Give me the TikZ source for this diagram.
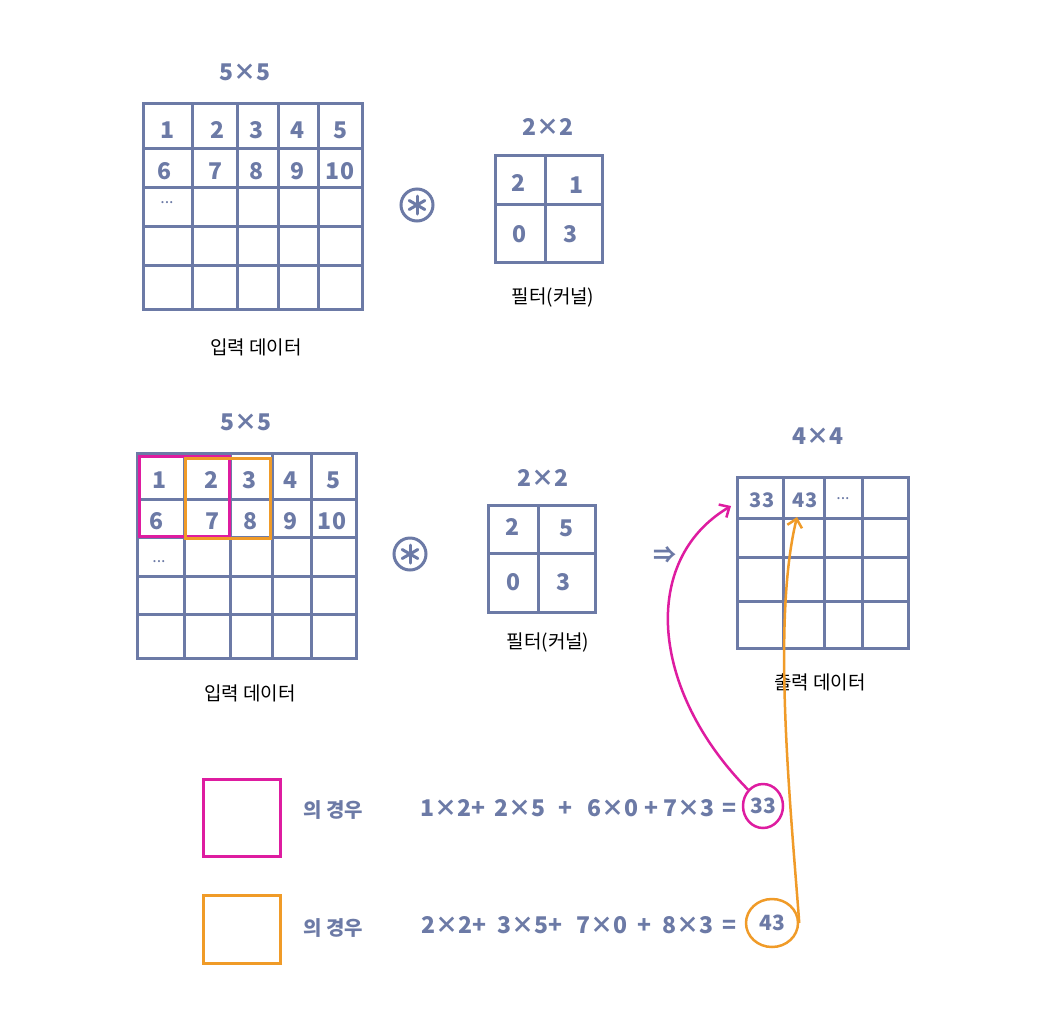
\documentclass[tikz,border=0pt]{standalone}
\usepackage{fontspec}
\setmainfont{Noto Sans CJK KR}
\usetikzlibrary{arrows.meta,shapes.geometric}
\definecolor{gridc}{RGB}{108,122,166}
\definecolor{mag}{RGB}{222,28,160}
\definecolor{org}{RGB}{240,155,40}
\begin{document}
\begin{tikzpicture}[x=1pt,y=-1pt,
  gridline/.style={draw=gridc, line width=3pt},
  num/.style={text=gridc, font=\fontsize{23}{23}\selectfont\bfseries, inner sep=0},
  small/.style={text=gridc, font=\fontsize{16}{16}\selectfont, inner sep=0},
  lbl/.style={text=black, font=\fontsize{19}{19}\selectfont, inner sep=0},
  eq/.style={text=gridc, font=\fontsize{23}{23}\selectfont\bfseries, inner sep=0, anchor=east},
  cs/.style={text=gridc, font=\fontsize{20}{20}\selectfont\bfseries, inner sep=0, anchor=west},
  conv/.style={draw=gridc, line width=3pt, circle, minimum size=32pt, inner sep=0},
  arm/.style={draw=gridc, line width=3pt, line cap=round},
  arr/.style={line width=2.5pt, -{Straight Barb[length=8pt,width=15pt,line width=2.5pt]}},
  hl/.style={line width=3pt},
  res/.style={ellipse, line width=2.5pt, inner sep=0, text=gridc, font=\fontsize{21}{21}\selectfont\bfseries}]
\useasboundingbox[fill=white] (0,0) rectangle (1044,1018);

% ---------- top input grid ----------
\draw[gridline] (143,103) rectangle (362,309);
\foreach \x in {192,237,278,318} \draw[gridline] (\x,103) -- (\x,309);
\foreach \y in {148,187,226,265} \draw[gridline] (143,\y) -- (362,\y);
\node[num] (t5x5) at (245,72) {5×5};
\node[num] (a1) at (168,130) {1};
\node[num] (a2) at (218,130) {2};
\node[num] (a3) at (257,130) {3};
\node[num] (a4) at (297,130) {4};
\node[num] (a5) at (340,130) {5};
\node[num] (a6) at (165,171) {6};
\node[num] (a7) at (216,171) {7};
\node[num] (a8) at (257,171) {8};
\node[num] (a9) at (297,171) {9};
\node[num] (a10) at (340,171) {10};
\node[small] (adots) at (167,203) {...};
\node[lbl] (tin) at (256,347) {입력 데이터};
\node[conv] (tconv) at (417,205) {};
\foreach \a in {90,150,210,270,330,30} \draw[arm] (tconv.center) -- ++(\a:9);

% ---------- top filter ----------
\draw[gridline] (495,155) rectangle (602,262);
\draw[gridline] (545,155) -- (545,262);
\draw[gridline] (495,204) -- (602,204);
\node[num] (tf) at (548,127) {2×2};
\node[num] (f1) at (518,183) {2};
\node[num] (f2) at (576,185) {1};
\node[num] (f3) at (519,234) {0};
\node[num] (f4) at (570,234) {3};
\node[lbl] (tfl) at (553,297) {필터(커널)};

% ---------- bottom input grid ----------
\draw[gridline] (137,453) rectangle (356,658);
\foreach \x in {184,230,272,311} \draw[gridline] (\x,453) -- (\x,658);
\foreach \y in {499,537,576,614} \draw[gridline] (137,\y) -- (356,\y);
\node[num] (b5x5) at (246,422) {5×5};
\node[num] (b1) at (160,480) {1};
\node[num] (b2) at (212,480) {2};
\node[num] (b3) at (250,480) {3};
\node[num] (b4) at (290,480) {4};
\node[num] (b5) at (333,480) {5};
\node[num] (b6) at (157,521) {6};
\node[num] (b7) at (213,521) {7};
\node[num] (b8) at (251,521) {8};
\node[num] (b9) at (291,521) {9};
\node[num] (b10) at (332,521) {10};
\node[small] (bdots) at (159,562) {...};
\draw[mag, hl] (139,456) rectangle (229,536);
\draw[org, hl] (185,458) rectangle (270,538);
\node[lbl] (bin) at (250,693) {입력 데이터};
\node[conv] (bconv) at (410,554) {};
\foreach \a in {90,150,210,270,330,30} \draw[arm] (bconv.center) -- ++(\a:9);

% ---------- bottom filter ----------
\draw[gridline] (488,505) rectangle (595,612);
\draw[gridline] (538,505) -- (538,612);
\draw[gridline] (488,553) -- (595,553);
\node[num] (bf) at (543,478) {2×2};
\node[num] (g1) at (512,527) {2};
\node[num] (g2) at (566,528) {5};
\node[num] (g3) at (513,582) {0};
\node[num] (g4) at (563,582) {3};
\node[lbl] (bfl) at (548,642) {필터(커널)};

\node[num] (impl) at (665,555) {⇒};

% ---------- output grid ----------
\draw[gridline] (737,477) rectangle (908,648);
\foreach \x in {783,824,862} \draw[gridline] (\x,477) -- (\x,648);
\foreach \y in {518,557,601} \draw[gridline] (737,\y) -- (908,\y);
\node[num] (o4x4) at (818,436) {4×4};
\node[num, font=\fontsize{20}{20}\selectfont\bfseries] (o33) at (762,500) {33};
\node[num, font=\fontsize{20}{20}\selectfont\bfseries] (o43) at (805,500) {43};
\node[small] (odots) at (843,499) {...};
\node[lbl] (oout) at (820,682) {출력 데이터};

% ---------- legend & equations ----------
\draw[mag, hl] (203,779) rectangle (280,856);
\draw[org, hl] (203,895) rectangle (280,963);
\node[cs] (c1) at (303,810) {의 경우};
\node[eq] (e1) at (737,808) {1×2+\hspace{9pt}2×5\hspace{13pt}+\hspace{15pt}6×0\hspace{6pt}+\hspace{5pt}7×3\hspace{8pt}=};
\node[cs] (c2) at (303,928) {의 경우};
\node[eq] (e2) at (737,925) {2×2+\hspace{11pt}3×5+\hspace{14pt}7×0\hspace{10pt}+\hspace{11pt}8×3\hspace{9pt}=};
\node[res, draw=mag, minimum width=40pt, minimum height=44pt] (r33) at (763,806) {33};
\node[res, draw=org, minimum width=52pt, minimum height=48pt] (r43) at (772,923) {43};

% ---------- arrows ----------
\coordinate (m1) at (731,506);
\coordinate (m2) at (797,517);
\draw[mag, arr] (r33.north west) .. controls (650,690) and (640,560) .. (m1);
\draw[org, arr] (r43.east) .. controls (790,800) and (772,620) .. (m2);
\end{tikzpicture}
\end{document}
